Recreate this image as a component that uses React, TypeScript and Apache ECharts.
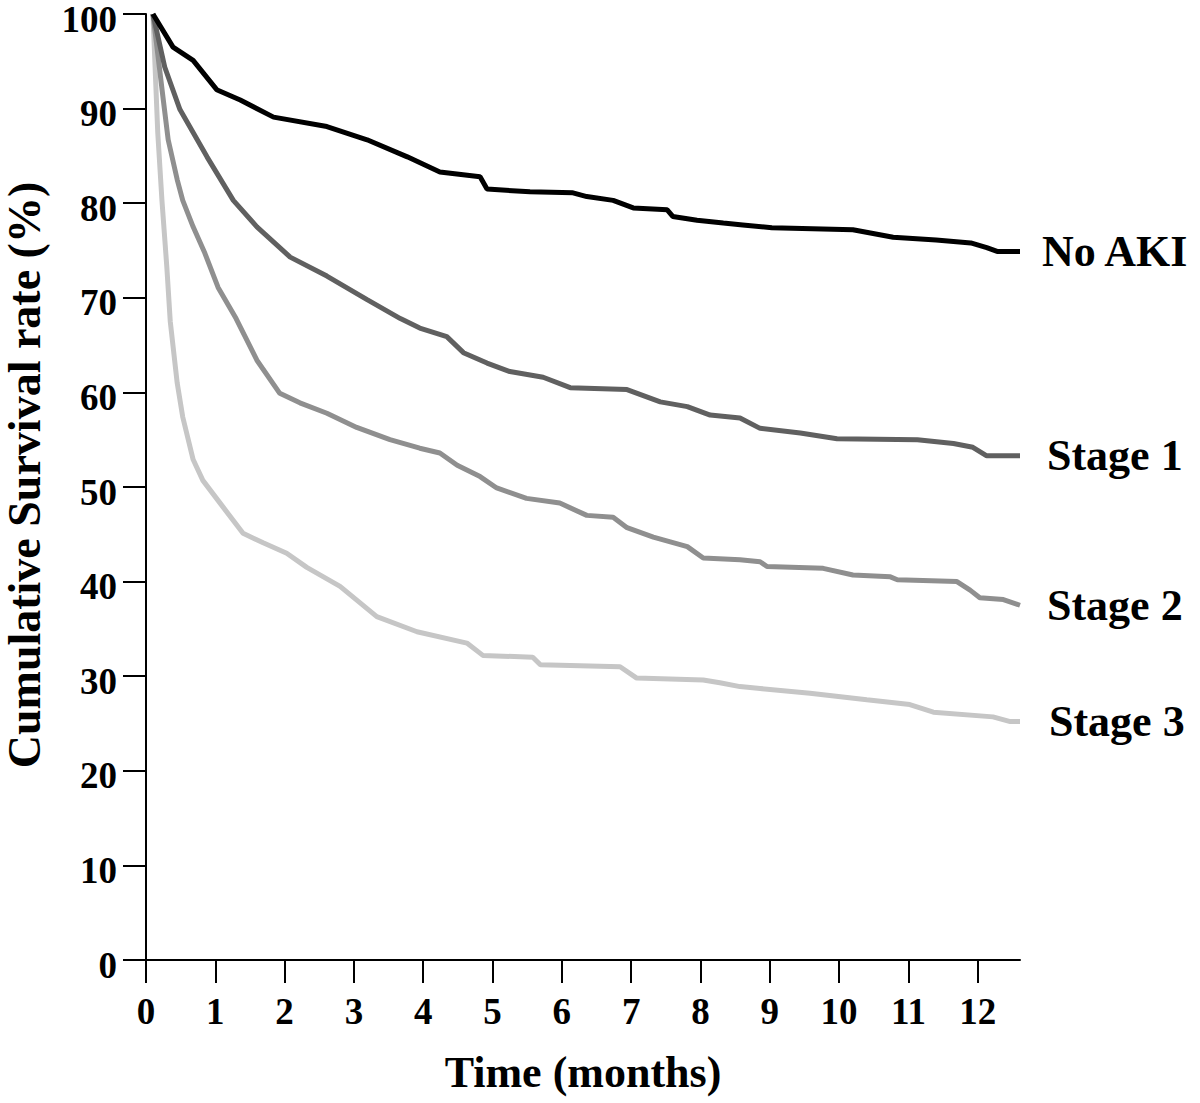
import React, { useEffect, useRef } from "react";
import * as echarts from "echarts";

// Time (months) and cumulative survival (%)
const noAkiTime = [0.1, 0.39, 0.68, 1.02, 1.36, 1.84, 2.61, 3.19, 3.77, 4.24, 4.82, 4.92, 5.54, 6.16, 6.36, 6.74, 7.03, 7.52, 7.6, 7.95, 8.33, 8.61, 9.03, 10.2, 10.78, 11.4, 11.9, 12.13, 12.28, 12.61];
const noAkiSurv = [100, 96.5, 95.1, 92.0, 90.9, 89.1, 88.1, 86.7, 84.9, 83.3, 82.8, 81.5, 81.2, 81.1, 80.7, 80.3, 79.5, 79.3, 78.6, 78.2, 77.9, 77.7, 77.4, 77.2, 76.4, 76.1, 75.8, 75.3, 74.9, 74.9];

const stage1Time = [0.1, 0.27, 0.49, 0.88, 1.26, 1.6, 2.08, 2.61, 3.19, 3.67, 3.95, 4.34, 4.58, 4.92, 5.25, 5.73, 6.12, 6.94, 7.42, 7.81, 8.14, 8.57, 8.86, 9.44, 9.97, 11.13, 11.65, 11.93, 12.13, 12.61];
const stage1Surv = [100, 94.4, 89.9, 84.9, 80.3, 77.5, 74.3, 72.3, 69.8, 67.8, 66.8, 65.9, 64.2, 63.1, 62.2, 61.6, 60.5, 60.3, 59.0, 58.5, 57.6, 57.3, 56.2, 55.7, 55.1, 55.0, 54.6, 54.2, 53.3, 53.3];

const stage2Time = [0.1, 0.25, 0.32, 0.45, 0.53, 0.68, 0.85, 1.04, 1.3, 1.6, 1.93, 2.22, 2.61, 3.04, 3.52, 3.95, 4.24, 4.49, 4.82, 5.06, 5.49, 5.97, 6.36, 6.74, 6.94, 7.32, 7.81, 8.04, 8.57, 8.86, 8.96, 9.77, 10.2, 10.74, 10.84, 11.7, 11.89, 12.03, 12.37, 12.61];
const stage2Surv = [100, 90.9, 86.7, 82.5, 80.3, 77.5, 74.7, 71.1, 67.8, 63.4, 59.9, 58.9, 57.8, 56.3, 55.0, 54.1, 53.6, 52.3, 51.1, 49.9, 48.8, 48.3, 47.0, 46.8, 45.7, 44.7, 43.7, 42.5, 42.3, 42.1, 41.6, 41.4, 40.7, 40.5, 40.2, 40.0, 39.1, 38.3, 38.1, 37.5];

const stage3Time = [0.1, 0.17, 0.23, 0.3, 0.35, 0.45, 0.53, 0.68, 0.82, 1.11, 1.4, 1.69, 2.03, 2.32, 2.8, 3.33, 3.91, 4.63, 4.86, 5.58, 5.69, 6.84, 7.08, 8.04, 8.28, 8.57, 8.86, 9.58, 10.4, 11.02, 11.36, 12.22, 12.47, 12.61];
const stage3Surv = [100, 87.4, 80.3, 73.3, 67.5, 61.0, 57.4, 52.9, 50.7, 47.9, 45.1, 44.1, 43.0, 41.5, 39.5, 36.3, 34.7, 33.5, 32.2, 32.0, 31.2, 31.0, 29.8, 29.6, 29.3, 28.9, 28.7, 28.2, 27.5, 27.0, 26.2, 25.7, 25.2, 25.2];

const seriesNames = ["No AKI", "Stage 1", "Stage 2", "Stage 3"];
const seriesColors = ["#000000", "#606060", "#8f8f8f", "#c6c6c6"];
const xTicks = [0, 1, 2, 3, 4, 5, 6, 7, 8, 9, 10, 11, 12];

const FONT = "'Liberation Serif', 'Times New Roman', serif";

function zip(t: number[], s: number[]) {
  return t.map((v, i) => [v, s[i]]);
}

export default function App() {
  const ref = useRef<HTMLDivElement>(null);

  useEffect(() => {
    if (!ref.current) return;
    const chart = echarts.init(ref.current, undefined, { renderer: "svg" });
    const datasets = [
      zip(noAkiTime, noAkiSurv),
      zip(stage1Time, stage1Surv),
      zip(stage2Time, stage2Surv),
      zip(stage3Time, stage3Surv),
    ];
    const labelDistance = [22, 27, 27, 29];
    chart.setOption({
      animation: false,
      backgroundColor: "#ffffff",
      grid: { left: 146, right: 180, top: 14, bottom: 143, containLabel: false, outerBoundsMode: "none" },
      xAxis: {
        type: "value",
        min: 0,
        max: 12.61,
        interval: 1,
        name: "Time (months)",
        nameLocation: "middle",
        nameGap: 90,
        nameTextStyle: { fontFamily: FONT, fontWeight: "bold", fontSize: 44, color: "#000" },
        splitLine: { show: false },
        axisLine: { show: true, lineStyle: { color: "#000", width: 2 } },
        axisTick: { show: true, length: 23, lineStyle: { color: "#000", width: 2 }, customValues: xTicks },
        axisLabel: {
          margin: 33,
          fontFamily: FONT,
          fontWeight: "bold",
          fontSize: 37,
          color: "#000",
          customValues: xTicks,
        },
      },
      yAxis: {
        type: "value",
        min: 0,
        max: 100,
        interval: 10,
        name: "Cumulative Survival rate (%)",
        nameLocation: "middle",
        nameRotate: 90,
        nameGap: 102,
        nameTextStyle: {
          fontFamily: FONT,
          fontWeight: "bold",
          fontSize: 46,
          lineHeight: 40,
          color: "#000",
          padding: [0, 0, 0, 24],
        },
        splitLine: { show: false },
        axisLine: { show: true, lineStyle: { color: "#000", width: 2 } },
        axisTick: { show: true, length: 23, lineStyle: { color: "#000", width: 2 } },
        axisLabel: {
          margin: 29,
          fontFamily: FONT,
          fontWeight: "bold",
          fontSize: 37,
          lineHeight: 10,
          verticalAlign: "top",
          color: "#000",
        },
      },
      series: seriesNames.map((name, i) => ({
        name,
        type: "line",
        data: datasets[i],
        showSymbol: false,
        symbol: "none",
        z: 10 - i,
        lineStyle: { color: seriesColors[i], width: 5 },
        endLabel: {
          show: true,
          formatter: "{a}",
          distance: labelDistance[i],
          fontFamily: FONT,
          fontWeight: "bold",
          fontSize: 44,
          color: "#000",
        },
      })),
    });
    return () => chart.dispose();
  }, []);

  return (
    <div
      ref={ref}
      style={{ position: "fixed", left: 0, top: 0, width: 1200, height: 1103, background: "#fff" }}
    />
  );
}
